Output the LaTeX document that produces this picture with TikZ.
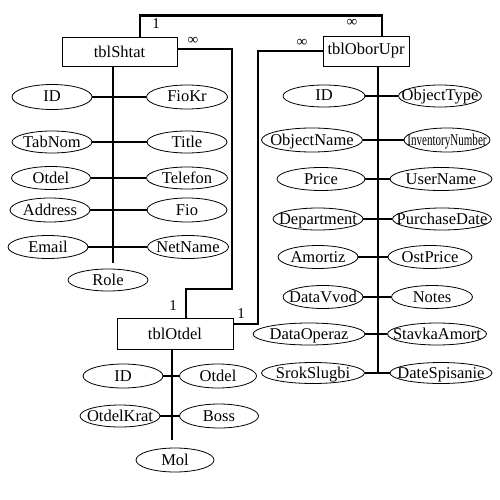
\documentclass[tikz,border=0pt]{standalone}
\usepackage{fontspec}
\setmainfont{Liberation Serif}
\usepackage{graphicx}
\usetikzlibrary{shapes.geometric,calc}
\newcommand\Atx[1]{\makebox[0pt]{#1}}
\tikzset{
  attr/.style={ellipse, draw, line width=0.8pt, inner sep=0pt, text height=12pt, text depth=2pt,
    font=\fontsize{16.5}{18}\selectfont},
  tbl/.style={rectangle, draw, line width=0.9pt, inner sep=0pt, font=\fontsize{16.5}{18}\selectfont},
  conn/.style={line width=2.4pt},
  card/.style={inner sep=0pt, font=\fontsize{15}{16}\selectfont}
}
\begin{document}
\begin{tikzpicture}[x=1pt,y=-1pt]
\useasboundingbox[fill=white] (0,0) rectangle (500,500);

% tables
\node[tbl, minimum width=115pt, minimum height=29pt] (shtat) at (119.5,51.5) {tblShtat};
\node[tbl, minimum width=86pt, minimum height=30pt] (obor) at (366,51) {tblOborUpr};
\node[tbl, minimum width=116pt, minimum height=31pt] (otdel) at (175,333.5) {tblOtdel};

% tblShtat attributes
\node[attr, minimum width=80pt, minimum height=25pt] (s1) at (52,97) {\Atx{ID}};
\node[attr, minimum width=81pt, minimum height=24pt] (s2) at (187,97) {\Atx{FioKr}};
\node[attr, minimum width=80pt, minimum height=22pt] (s3) at (52,142) {\Atx{TabNom}};
\node[attr, minimum width=80pt, minimum height=22pt] (s4) at (187,142) {\Atx{Title}};
\node[attr, minimum width=79pt, minimum height=23pt] (s5) at (51,178) {\Atx{Otdel}};
\node[attr, minimum width=81pt, minimum height=22pt] (s6) at (187,178) {\Atx{Telefon}};
\node[attr, minimum width=80pt, minimum height=24pt] (s7) at (50,210) {\Atx{Address}};
\node[attr, minimum width=80pt, minimum height=24pt] (s8) at (187,210) {\Atx{Fio}};
\node[attr, minimum width=80pt, minimum height=23pt] (s9) at (48,247) {\Atx{Email}};
\node[attr, minimum width=81pt, minimum height=23pt] (s10) at (188,247) {\Atx{NetName}};
\node[attr, minimum width=80pt, minimum height=22pt] (s11) at (108,280) {\Atx{Role}};

% tblOborUpr attributes
\node[attr, minimum width=82pt, minimum height=22pt] (b1) at (324,96) {\Atx{ID}};
\node[attr, minimum width=83pt, minimum height=22pt] (b2) at (440,96) {\Atx{ObjectType}};
\node[attr, minimum width=101pt, minimum height=24pt] (b3) at (312,140) {\Atx{ObjectName}};
\node[attr, minimum width=86pt, minimum height=24pt] (b4) at (447,140) {\Atx{\scalebox{0.67}[1]{InventoryNumber}}};
\node[attr, minimum width=88pt, minimum height=23pt] (b5) at (321,179) {\Atx{Price}};
\node[attr, minimum width=102pt, minimum height=23pt] (b6) at (441,179) {\Atx{UserName}};
\node[attr, minimum width=90pt, minimum height=22pt] (b7) at (318,219) {\Atx{Department}};
\node[attr, minimum width=99pt, minimum height=22pt] (b8) at (442,219) {\Atx{PurchaseDate}};
\node[attr, minimum width=80pt, minimum height=23pt] (b9) at (318,257) {\Atx{Amortiz}};
\node[attr, minimum width=84pt, minimum height=23pt] (b10) at (430,257) {\Atx{OstPrice}};
\node[attr, minimum width=80pt, minimum height=23pt] (b11) at (323,297) {\Atx{DataVvod}};
\node[attr, minimum width=81pt, minimum height=23pt] (b12) at (432,297) {\Atx{Notes}};
\node[attr, minimum width=112pt, minimum height=22pt] (b13) at (309,334) {\Atx{DataOperaz}};
\node[attr, minimum width=99pt, minimum height=22pt] (b14) at (437,334) {\Atx{StavkaAmort}};
\node[attr, minimum width=103pt, minimum height=21pt] (b15) at (313,373) {\Atx{SrokSlugbi}};
\node[attr, minimum width=102pt, minimum height=21pt] (b16) at (441,373) {\Atx{DateSpisanie}};

% tblOtdel attributes
\node[attr, minimum width=80pt, minimum height=24pt] (o1) at (123,376) {\Atx{ID}};
\node[attr, minimum width=77pt, minimum height=24pt] (o2) at (218,376) {\Atx{Otdel}};
\node[attr, minimum width=80pt, minimum height=22pt] (o3) at (120,416) {\Atx{OtdelKrat}};
\node[attr, minimum width=79pt, minimum height=24pt] (o4) at (219,416) {\Atx{Boss}};
\node[attr, minimum width=78pt, minimum height=24pt] (o5) at (175,460) {\Atx{Mol}};

% trunks
\coordinate (sTop) at (113,66);
\coordinate (sBot) at (113,263);
\coordinate (bTop) at (378,66);
\coordinate (bBot) at (378,373);
\coordinate (oTop) at (172,349);
\coordinate (oBot) at (172,440);
\draw[conn] (sTop) -- (sBot);
\draw[conn] (bTop) -- (bBot);
\draw[conn] (oTop) -- (oBot);

% attribute connectors
\foreach \a/\b in {s1/s2,s3/s4,s5/s6,s7/s8,s9/s10,
  b1/b2,b3/b4,b5/b6,b7/b8,b9/b10,b11/b12,b13/b14,b15/b16,o1/o2,o3/o4}
  \draw[conn] (\a.east) -- (\a.east -| \b.west);

% relationships
\draw[conn] ($(shtat.north)+(20.5,0)$) -- ++(0,-21) -| ($(obor.north)+(16,0)$);
\coordinate (c2) at (232,289);
\draw[conn] ($(shtat.east)+(0,-2.5)$) -| (c2) -| ($(otdel.north)+(11,0)$);
\coordinate (c3) at (258,324);
\draw[conn] (obor.west) -| (c3) -- ($(otdel.east)+(0,-9.5)$);

% cardinalities
\node[card] (k1) at (156,24) {1};
\node[card] (k2) at (352,23) {∞};
\node[card] (k3) at (193,41) {∞};
\node[card] (k4) at (173,306) {1};
\node[card] (k5) at (302,43) {∞};
\node[card] (k6) at (241,314) {1};
\end{tikzpicture}
\end{document}
